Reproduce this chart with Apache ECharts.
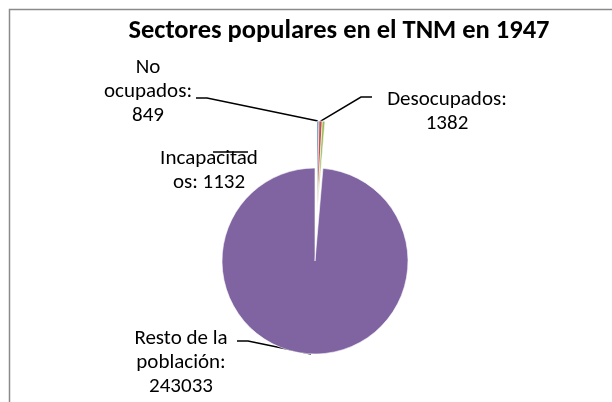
<!DOCTYPE html>
<html>
<head>
<meta charset="utf-8">
<script src="https://cdn.jsdelivr.net/npm/echarts@6/dist/echarts.min.js"></script>
<style>
  html, body { margin: 0; padding: 0; background: #fff; }
  #chart { width: 612px; height: 402px; }
</style>
</head>
<body>
<div id="chart"></div>
<script>
var categories = ['No ocupados', 'Desocupados', 'Incapacitados', 'Resto de la población'];
var values = [849, 1382, 1132, 243033];
var colors = ['#4F81BD', '#C0504D', '#9BBB59', '#8064A2'];
// text as it wraps in the original
var labelTexts = ['No\nocupados:\n{c}', 'Desocupados:\n{c}', 'Incapacitad\nos: {c}', 'Resto de la\npoblación:\n{c}'];
var exploded = [true, true, true, false];

var FONT = 'Carlito, Lato, sans-serif';
var CENTER = [315, 261];
var EXPLODED_CENTER = [317, 214];

// where each label sits and where its leader line bends
var labelPos = [
  { x: 148, y: 92, bend: [[207, 98], [196, 98]] },
  { x: 447, y: 112, bend: [[361, 97], [372, 97]] },
  { x: 209, y: 171, line: [[248, 152], [213, 152], [213, 152]] },
  { x: 181, y: 363, bend: [[248, 341], [237, 341]] }
];

var chart = echarts.init(document.getElementById('chart'), null, { renderer: 'canvas' });

// one pie for the slices that stay in place, one for the pulled-out ones
function buildData(wantExploded) {
  return categories.map(function (name, i) {
    var on = exploded[i] === wantExploded;
    return {
      name: name,
      value: values[i],
      itemStyle: on ? { color: colors[i] } : { color: 'rgba(0,0,0,0)', borderWidth: 0 },
      label: on ? { show: true, formatter: labelTexts[i] } : { show: false },
      labelLine: { show: on }
    };
  });
}

function pieSeries(center, wantExploded) {
  return {
    type: 'pie',
    center: center,
    radius: 93,
    startAngle: 90,
    clockwise: true,
    avoidLabelOverlap: false,
    silent: true,
    emphasis: { disabled: true },
    itemStyle: { borderColor: '#fff', borderWidth: 0.6 },
    label: {
      position: 'outside',
      fontFamily: FONT,
      fontSize: 21,
      lineHeight: 24,
      color: '#000',
      align: 'center'
    },
    labelLine: {
      lineStyle: { color: '#000', width: 1.5 }
    },
    labelLayout: function (params) {
      var p = labelPos[params.dataIndex];
      if (!params.labelLinePoints) {
        return {};
      }
      var pts = p.line ? p.line : [params.labelLinePoints[0], p.bend[0], p.bend[1]];
      return {
        x: p.x,
        y: p.y,
        align: 'center',
        verticalAlign: 'middle',
        labelLinePoints: pts
      };
    },
    data: buildData(wantExploded)
  };
}

var option = {
  backgroundColor: '#fff',
  animation: false,
  title: {
    text: 'Sectores populares en el TNM en 1947',
    left: 334,
    top: 13,
    textAlign: 'center',
    textStyle: { fontFamily: FONT, fontWeight: 'bold', fontSize: 26.5, color: '#000' }
  },
  graphic: [{
    type: 'rect',
    shape: { x: 9.5, y: 9.5, width: 700, height: 500 },
    style: { fill: null, stroke: '#8a8a8a', lineWidth: 1.5 },
    silent: true
  }],
  series: [
    pieSeries(CENTER, false),
    pieSeries(EXPLODED_CENTER, true)
  ]
};

chart.setOption(option);
</script>
</body>
</html>
